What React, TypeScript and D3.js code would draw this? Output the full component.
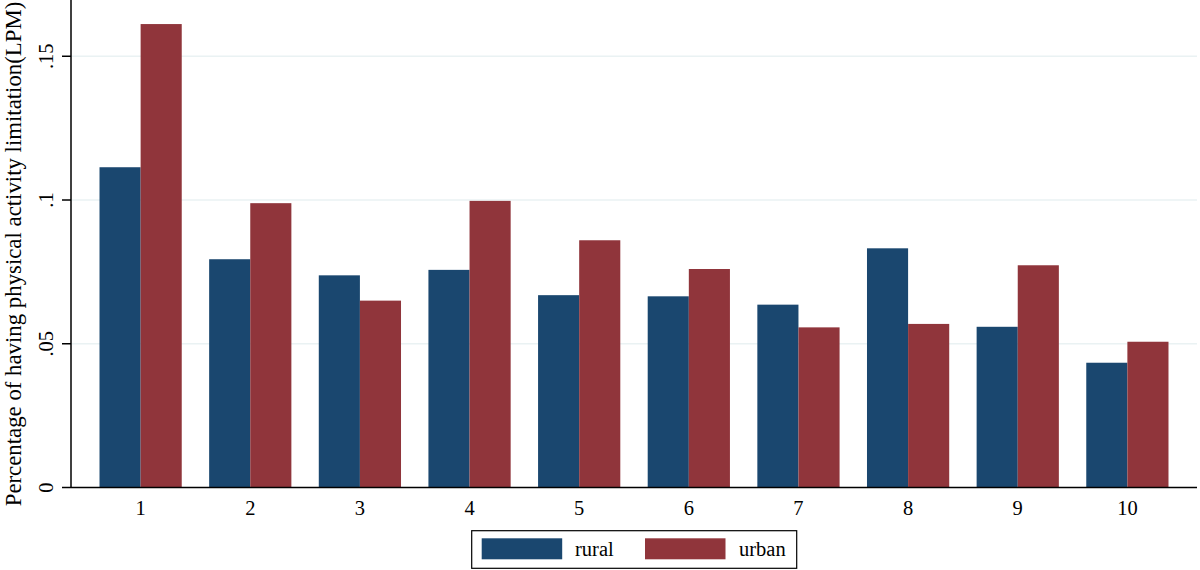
import React from "react";
import * as d3 from "d3";

const categories = ["1", "2", "3", "4", "5", "6", "7", "8", "9", "10"];
const seriesNames = ["rural", "urban"];
const rural = [0.1114, 0.0794, 0.0738, 0.0757, 0.0669, 0.0665, 0.0636, 0.0832, 0.0559, 0.0434];
const urban = [0.1612, 0.0989, 0.065, 0.0997, 0.086, 0.076, 0.0557, 0.0569, 0.0773, 0.0507];
const yTicks = [0, 0.05, 0.1, 0.15];
const yTickLabels = ["0", ".05", ".1", ".15"];
const colors = ["#1a476f", "#90353b"];

const W = 1200;
const H = 570;
const left = 71;
const right = 1197;
const bottom = 487.5;
const top = 0;
const font = "'Liberation Serif', 'Times New Roman', serif";

export default function App() {
  const x = d3.scaleBand<string>().domain(categories).range([left, right]).paddingInner(0.25).paddingOuter(0.26);
  const xs = d3.scaleBand<string>().domain(seriesNames).range([0, x.bandwidth()]);
  const y = d3.scaleLinear().domain([0, 0.16957]).range([bottom, top]);
  const series = [rural, urban];

  return (
    <svg width={W} height={H} style={{ position: "absolute", left: 0, top: 0, background: "#fff" }}>
      <rect x={0} y={0} width={W} height={H} fill="#fff" />
      {yTicks.filter((t) => t > 0).map((t) => (
        <line key={"g" + t} x1={left} x2={right} y1={y(t)} y2={y(t)} stroke="#eaf2f3" strokeWidth={1.5} />
      ))}
      {categories.map((c, i) =>
        series.map((s, j) => (
          <rect
            key={c + j}
            x={(x(c) as number) + (xs(seriesNames[j]) as number)}
            y={y(s[i])}
            width={xs.bandwidth()}
            height={bottom - y(s[i])}
            fill={colors[j]}
          />
        ))
      )}
      <line x1={left} x2={left} y1={top} y2={bottom} stroke="#000" strokeWidth={1.5} />
      <line x1={left} x2={right} y1={bottom} y2={bottom} stroke="#000" strokeWidth={1.5} />
      {yTicks.map((t, i) => (
        <g key={"t" + t}>
          <line x1={left - 9} x2={left} y1={y(t)} y2={y(t)} stroke="#000" strokeWidth={1.5} />
          <text
            transform={`translate(${53},${y(t)}) rotate(-90)`}
            textAnchor="middle"
            fontFamily={font}
            fontSize={20.5}
            fill="#000"
          >
            {yTickLabels[i]}
          </text>
        </g>
      ))}
      {categories.map((c) => (
        <text
          key={"x" + c}
          x={(x(c) as number) + x.bandwidth() / 2}
          y={515}
          textAnchor="middle"
          fontFamily={font}
          fontSize={20.5}
          fill="#000"
        >
          {c}
        </text>
      ))}
      <text
        transform={`translate(${21},${254}) rotate(-90)`}
        textAnchor="middle"
        fontFamily={font}
        fontSize={22.8}
        fill="#000"
      >
        Percentage of having physical activity limitation(LPM)
      </text>
      <rect x={471.7} y={530.7} width={325} height={37.6} fill="#fff" stroke="#000" strokeWidth={1.2} />
      {seriesNames.map((n, j) => (
        <g key={"l" + n}>
          <rect x={j === 0 ? 481.7 : 645} y={538.3} width={80.5} height={21} fill={colors[j]} />
          <text x={j === 0 ? 575 : 739} y={556} fontFamily={font} fontSize={20.5} fill="#000">
            {n}
          </text>
        </g>
      ))}
    </svg>
  );
}
